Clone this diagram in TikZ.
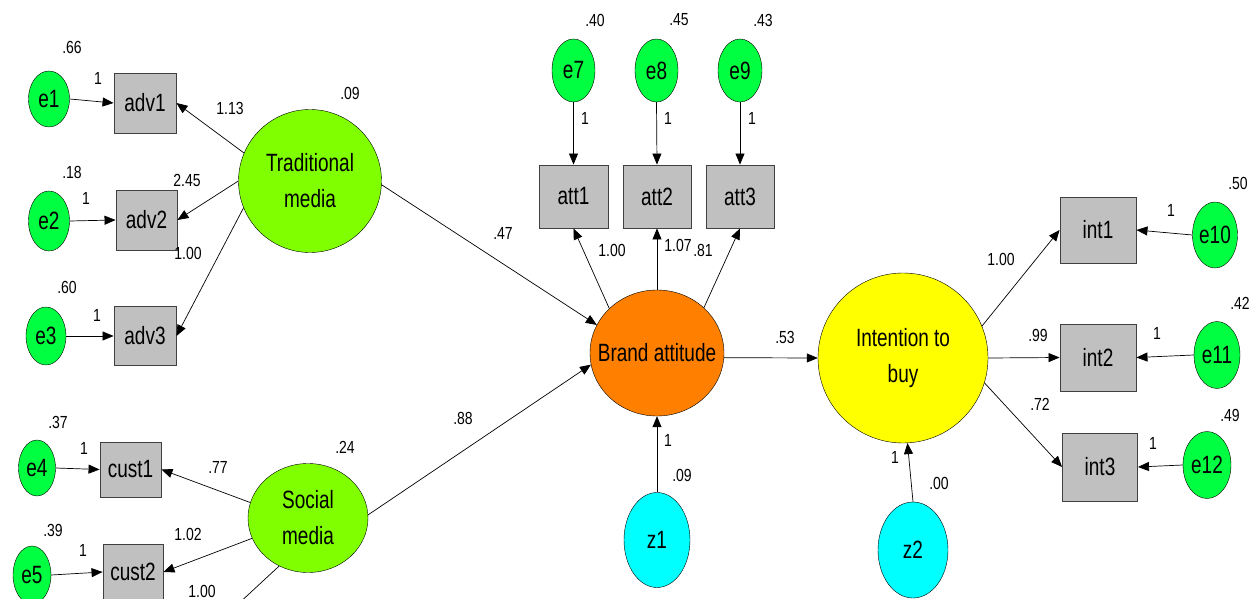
\documentclass[tikz,border=0pt]{standalone}
\usepackage{fontspec}
\setmainfont{Liberation Sans}[FakeStretch=0.76]
\newfontfamily\numfam{Liberation Sans}[FakeStretch=0.8]
\usetikzlibrary{shapes.geometric,arrows.meta}
\definecolor{egreen}{RGB}{0,255,64}
\definecolor{lgreen}{RGB}{128,255,0}
\definecolor{borange}{RGB}{255,128,0}
\definecolor{iyellow}{RGB}{255,255,0}
\definecolor{zcyan}{RGB}{0,255,255}
\definecolor{boxgray}{RGB}{192,192,192}
\newcommand{\labfont}{\fontsize{25}{36}\selectfont}
\newcommand{\numfont}{\numfam\fontsize{17.5}{20}\selectfont}
\begin{document}
\begin{tikzpicture}[x=1pt,y=-1pt,
  errnode/.style={ellipse, draw, fill=egreen, inner sep=0pt, font=\labfont},
  obsnode/.style={rectangle, draw=black!75, line width=0.9pt, fill=boxgray, inner sep=0pt, font=\labfont},
  latnode/.style={ellipse, draw, inner sep=0pt, font=\labfont, align=center},
  arr/.style={-{Triangle[length=11pt,width=9pt]}, line width=0.7pt},
  plain/.style={line width=0.7pt},
  num/.style={font=\numfont, inner sep=0pt}]
\useasboundingbox (0,0) rectangle (1253,599);
\clip (0,0) rectangle (1253,599);
\fill[white] (0,0) rectangle (1253,599);

% latent variables
\node[latnode, fill=lgreen, minimum width=143pt, minimum height=143pt] (TM) at (310,181) {Traditional\\media};
\node[latnode, fill=lgreen, minimum width=120pt, minimum height=109pt] (SM) at (308,518) {Social\\media};
\node[latnode, fill=borange, minimum width=134pt, minimum height=126pt] (BA) at (657,353) {\makebox[0pt]{Brand attitude}};
\node[latnode, fill=iyellow, minimum width=170pt, minimum height=170pt] (IB) at (903,358) {Intention to\\buy};
\node[latnode, fill=zcyan, minimum width=66pt, minimum height=95pt] (z1) at (657,540) {z1};
\node[latnode, fill=zcyan, minimum width=70pt, minimum height=96pt] (z2) at (913,550) {z2};

% observed
\node[obsnode, minimum width=62pt, minimum height=60pt] (adv1) at (145,103) {adv1};
\node[obsnode, minimum width=61pt, minimum height=60pt] (adv2) at (146.5,220) {adv2};
\node[obsnode, minimum width=62pt, minimum height=59pt] (adv3) at (145,336) {adv3};
\node[obsnode, minimum width=61pt, minimum height=55pt] (cust1) at (130.5,469.5) {cust1};
\node[obsnode, minimum width=60pt, minimum height=55pt] (cust2) at (133,572) {cust2};
\node[obsnode, minimum width=69pt, minimum height=63pt] (att1) at (573.5,196.5) {att1};
\node[obsnode, minimum width=68pt, minimum height=63pt] (att2) at (657,196.5) {att2};
\node[obsnode, minimum width=68pt, minimum height=63pt] (att3) at (740,196.5) {att3};
\node[obsnode, minimum width=76pt, minimum height=66pt] (int1) at (1098,230) {int1};
\node[obsnode, minimum width=76pt, minimum height=67pt] (int2) at (1098,357.5) {int2};
\node[obsnode, minimum width=75pt, minimum height=68pt] (int3) at (1100,467) {int3};

% errors
\node[errnode, minimum width=41pt, minimum height=56pt] (e1) at (49,99) {e1};
\node[errnode, minimum width=41pt, minimum height=60pt] (e2) at (49,221) {e2};
\node[errnode, minimum width=40pt, minimum height=58pt] (e3) at (46,336) {e3};
\node[errnode, minimum width=37pt, minimum height=56pt] (e4) at (37,468) {e4};
\node[errnode, minimum width=38pt, minimum height=58pt] (e5) at (32,575) {e5};
\node[errnode, minimum width=43pt, minimum height=63pt] (e7) at (573.5,70.5) {e7};
\node[errnode, minimum width=43pt, minimum height=63pt] (e8) at (656.5,70.5) {e8};
\node[errnode, minimum width=44pt, minimum height=63pt] (e9) at (740,70.5) {e9};
\node[errnode, minimum width=45pt, minimum height=66pt] (e10) at (1215,235) {e10};
\node[errnode, minimum width=46pt, minimum height=67pt] (e11) at (1217,355) {e11};
\node[errnode, minimum width=48pt, minimum height=67pt] (e12) at (1207,465) {e12};

\coordinate (c3) at (236,606);

% connectors
\draw[arr] (e1.east) -- (adv1.west);
\draw[arr] (e2.east) -- (adv2.west);
\draw[arr] (e3.east) -- (adv3.west);
\draw[arr] (e4.east) -- (cust1.west);
\draw[arr] (e5.east) -- (cust2.west);
\draw[arr] (TM.157) -- (adv1.east);
\draw[arr] (TM.180) -- (adv2.east);
\draw[arr] (TM.202) -- (adv3.east);
\draw[arr] (SM.165) -- (cust1.east);
\draw[arr] (SM.200) -- (cust2.east);
\draw[plain] (SM.239) -- (c3);
\draw[arr] (TM.-3) -- (BA.155);
\draw[arr] (SM.3) -- (BA.190);
\draw[arr] (e7.south) -- (att1.north);
\draw[arr] (e8.south) -- (att2.north);
\draw[arr] (e9.south) -- (att3.north);
\draw[arr] (BA.137) -- (att1.south);
\draw[arr] (BA.north) -- (att2.south);
\draw[arr] (BA.44) -- (att3.south);
\draw[arr] (z1.north) -- (BA.south);
\draw[arr] (z2.north) -- (IB.-87);
\draw[arr] (BA.-4) -- (IB.180);
\draw[arr] (IB.22) -- (int1.west);
\draw[arr] (IB.0) -- (int2.west);
\draw[arr] (IB.-17) -- (int3.west);
\draw[arr] (e10.west) -- (int1.east);
\draw[arr] (e11.west) -- (int2.east);
\draw[arr] (e12.west) -- (int3.east);

% numbers
\node[num] (n1) at (72,47) {.66};
\node[num] (n2) at (98,78) {1};
\node[num] (n3) at (350,93) {.09};
\node[num] (n4) at (230,108) {1.13};
\node[num] (n5) at (72,172) {.18};
\node[num] (n6) at (86,198) {1};
\node[num] (n7) at (187,180) {2.45};
\node[num] (n8) at (188,253) {1.00};
\node[num] (n9) at (67,287) {.60};
\node[num] (n10) at (97,315) {1};
\node[num] (n11) at (58,422) {.37};
\node[num] (n12) at (84,448) {1};
\node[num] (n13) at (345,447) {.24};
\node[num] (n14) at (218,467) {.77};
\node[num] (n15) at (53,530) {.39};
\node[num] (n16) at (83,550) {1};
\node[num] (n17) at (188,534) {1.02};
\node[num] (n18) at (202,591) {1.00};
\node[num] (n19) at (503,233) {.47};
\node[num] (n20) at (463,418) {.88};
\node[num] (n21) at (595,20) {.40};
\node[num] (n22) at (679,20) {.45};
\node[num] (n23) at (763,20) {.43};
\node[num] (n24) at (585,118) {1};
\node[num] (n25) at (668,118) {1};
\node[num] (n26) at (752,118) {1};
\node[num] (n27) at (612,250) {1.00};
\node[num] (n28) at (678,245) {1.07};
\node[num] (n29) at (703,250) {.81};
\node[num] (n30) at (785,337) {.53};
\node[num] (n31) at (668,440) {1};
\node[num] (n32) at (682,475) {.09};
\node[num] (n33) at (895,457) {1};
\node[num] (n34) at (939,483) {.00};
\node[num] (n35) at (1238,183) {.50};
\node[num] (n36) at (1171,210) {1};
\node[num] (n37) at (1001,259) {1.00};
\node[num] (n38) at (1240,303) {.42};
\node[num] (n39) at (1157,333) {1};
\node[num] (n40) at (1038,335) {.99};
\node[num] (n41) at (1040,404) {.72};
\node[num] (n42) at (1230,415) {.49};
\node[num] (n43) at (1153,443) {1};
\end{tikzpicture}
\end{document}
